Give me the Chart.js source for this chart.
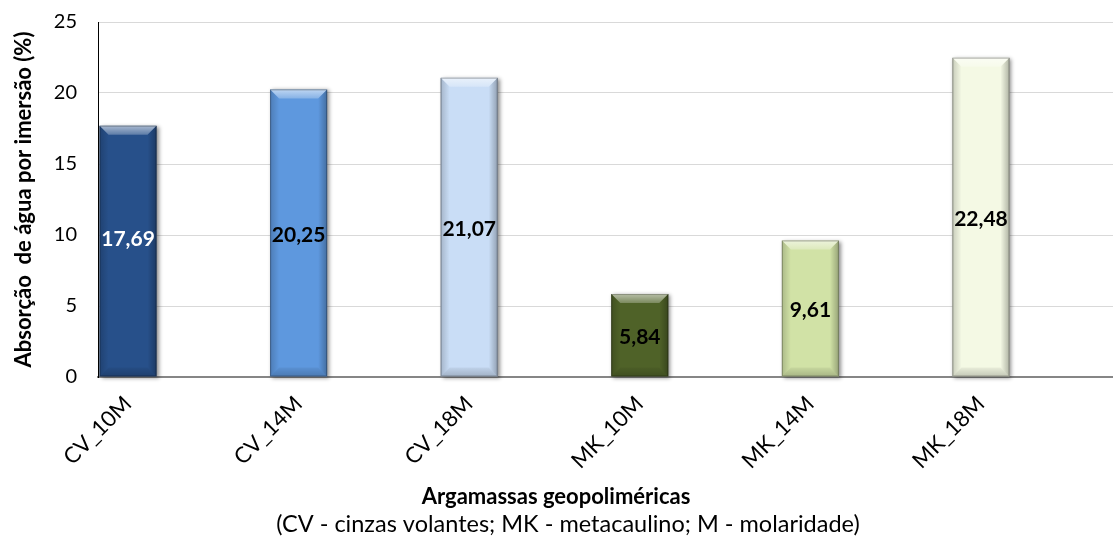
<!DOCTYPE html>
<html>
<head>
<meta charset="utf-8">
<script src="https://cdn.jsdelivr.net/npm/chart.js@4.4.1/dist/chart.umd.min.js"></script>
<style>
  html, body { margin: 0; padding: 0; background: #ffffff; }
  #wrap { width: 1113px; height: 544px; position: relative; }
</style>
</head>
<body>
<div id="wrap"><canvas id="c" width="1113" height="544"></canvas></div>
<script>
// ---- data ----
const categories = ["CV_10M", "CV_14M", "CV_18M", "MK_10M", "MK_14M", "MK_18M"];
const absorption = [17.69, 20.25, 21.07, 5.84, 9.61, 22.48];
const valueLabels = ["17,69", "20,25", "21,07", "5,84", "9,61", "22,48"];
const yTicks = [0, 5, 10, 15, 20, 25];
const yTitle = "Absorção  de água por imersão (%)";
const xTitle = "Argamassas geopoliméricas";
const xSubtitle = "(CV - cinzas volantes; MK - metacaulino; M - molaridade)";

// ---- styles ----
const barColors = ["#27508a", "#5e98de", "#c9ddf6", "#4f6228", "#d1e2a6", "#f4f9e4"];
const labelColors = ["#ffffff", "#000000", "#000000", "#000000", "#000000", "#000000"];
const labelShift = [-14, 0, 0, 0, 0, 0];
const FONT = "Lato, 'Open Sans', sans-serif";

const points = absorption.map((v, i) => ({ x: i, y: v }));

const shadowPlugin = {
  id: 'barShadow',
  beforeDatasetsDraw(chart) {
    const ctx = chart.ctx;
    const meta = chart.getDatasetMeta(0);
    ctx.save();
    meta.data.forEach((bar) => {
      const w = bar.width;
      const L = bar.x - w / 2, T = bar.y, H = bar.base - bar.y;
      ctx.shadowColor = 'rgba(0,0,0,0.45)';
      ctx.shadowBlur = 4;
      ctx.shadowOffsetX = 2;
      ctx.shadowOffsetY = 1;
      ctx.fillStyle = 'rgba(120,120,120,1)';
      ctx.fillRect(L, T, w, H);
    });
    ctx.restore();
  }
};

const bevelPlugin = {
  id: 'bevel',
  afterDatasetsDraw(chart) {
    const ctx = chart.ctx;
    const meta = chart.getDatasetMeta(0);
    const b = 9;
    ctx.save();
    meta.data.forEach((bar, i) => {
      const w = bar.width;
      const L = bar.x - w / 2, R = bar.x + w / 2, T = bar.y, B = bar.base;
      let g = ctx.createLinearGradient(0, T, 0, T + b);
      g.addColorStop(0, 'rgba(255,255,255,0.6)');
      g.addColorStop(1, 'rgba(255,255,255,0.25)');
      ctx.fillStyle = g;
      ctx.beginPath();
      ctx.moveTo(L, T); ctx.lineTo(R, T); ctx.lineTo(R - b, T + b); ctx.lineTo(L + b, T + b); ctx.closePath();
      ctx.fill();
      g = ctx.createLinearGradient(L, 0, L + b, 0);
      g.addColorStop(0, 'rgba(0,0,0,0.18)');
      g.addColorStop(1, 'rgba(0,0,0,0)');
      ctx.fillStyle = g;
      ctx.beginPath();
      ctx.moveTo(L, T); ctx.lineTo(L + b, T + b); ctx.lineTo(L + b, B - b); ctx.lineTo(L, B); ctx.closePath();
      ctx.fill();
      g = ctx.createLinearGradient(R, 0, R - b, 0);
      g.addColorStop(0, 'rgba(0,0,0,0.28)');
      g.addColorStop(1, 'rgba(0,0,0,0)');
      ctx.fillStyle = g;
      ctx.beginPath();
      ctx.moveTo(R, T); ctx.lineTo(R - b, T + b); ctx.lineTo(R - b, B - b); ctx.lineTo(R, B); ctx.closePath();
      ctx.fill();
      g = ctx.createLinearGradient(0, B, 0, B - b);
      g.addColorStop(0, 'rgba(0,0,0,0.2)');
      g.addColorStop(1, 'rgba(0,0,0,0.05)');
      ctx.fillStyle = g;
      ctx.beginPath();
      ctx.moveTo(L, B); ctx.lineTo(R, B); ctx.lineTo(R - b, B - b); ctx.lineTo(L + b, B - b); ctx.closePath();
      ctx.fill();
      ctx.strokeStyle = 'rgba(0,0,0,0.25)';
      ctx.lineWidth = 1;
      ctx.strokeRect(L + 0.5, T + 0.5, w - 1, B - T - 1);
    });
    ctx.font = "bold 21px " + FONT;
    ctx.textAlign = 'center';
    ctx.textBaseline = 'middle';
    meta.data.forEach((bar, i) => {
      ctx.fillStyle = labelColors[i];
      ctx.fillText(valueLabels[i], bar.x, (bar.y + bar.base) / 2 + 2 + labelShift[i]);
    });
    ctx.restore();
  }
};

const xTitlePlugin = {
  id: 'xTitles',
  afterDraw(chart) {
    const ctx = chart.ctx;
    ctx.save();
    ctx.fillStyle = '#000000';
    ctx.textAlign = 'center';
    ctx.textBaseline = 'middle';
    ctx.font = "bold 22px " + FONT;
    ctx.fillText(xTitle, 556, 497);
    ctx.font = "23.5px " + FONT;
    ctx.fillText(xSubtitle, 568, 524);
    ctx.restore();
  }
};

new Chart(document.getElementById('c'), {
  type: 'bar',
  data: {
    datasets: [{
      data: points,
      backgroundColor: barColors,
      borderWidth: 0,
      categoryPercentage: 1,
      barPercentage: 0.334
    }]
  },
  options: {
    responsive: false,
    animation: false,
    devicePixelRatio: 1,
    layout: { padding: { top: 22, right: 0, bottom: 0, left: 0 } },
    plugins: { legend: { display: false }, tooltip: { enabled: false } },
    scales: {
      x: {
        type: 'linear',
        offset: false,
        min: -0.176,
        max: 5.774,
        afterBuildTicks(scale) { scale.ticks = categories.map((_, i) => ({ value: i })); },
        afterFit(scale) { scale.height = 544 - 377; },
        grid: { display: false, drawTicks: false },
        border: { display: true, color: '#868686', width: 2 },
        ticks: {
          autoSkip: false,
          minRotation: 45,
          maxRotation: 45,
          padding: 14,
          color: '#000000',
          font: { family: FONT, size: 22 },
          callback: (v) => categories[v] !== undefined ? categories[v] : ''
        }
      },
      y: {
        min: 0,
        max: 25,
        afterBuildTicks(scale) { scale.ticks = yTicks.map(v => ({ value: v })); },
        afterFit(scale) { scale.width = 98; scale.paddingTop = 10; scale.paddingBottom = 10; },
        grid: { color: '#d9d9d9', lineWidth: 1, drawTicks: false },
        border: { display: true, color: '#000000', width: 1 },
        ticks: {
          padding: 21,
          color: '#000000',
          font: { family: FONT, size: 20 }
        },
        title: {
          display: true,
          text: yTitle,
          color: '#000000',
          font: { family: FONT, size: 22, weight: 'bold' },
          padding: { top: 11, bottom: 0 }
        }
      }
    }
  },
  plugins: [shadowPlugin, bevelPlugin, xTitlePlugin]
});
</script>
</body>
</html>
